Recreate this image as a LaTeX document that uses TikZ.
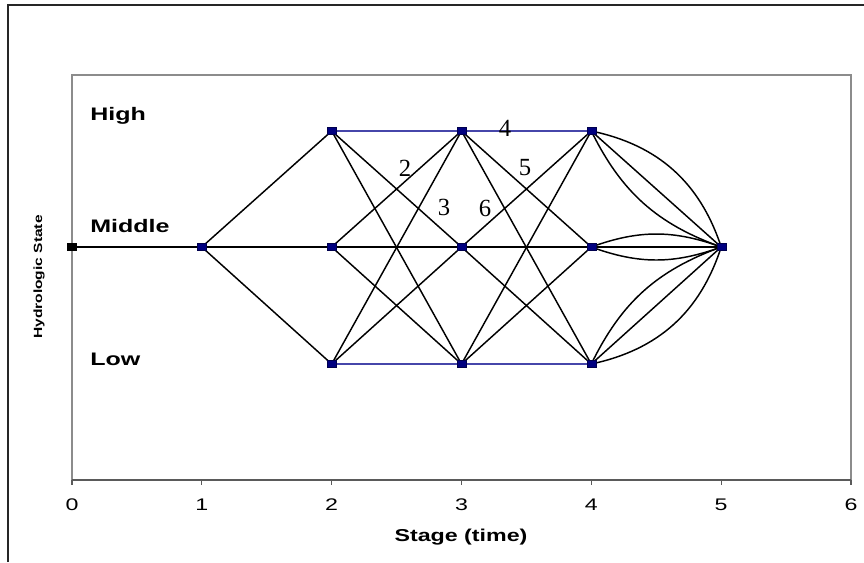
\documentclass[tikz,border=0pt]{standalone}
\usepackage{fontspec}
\newfontfamily\lsans{Liberation Sans}
\newfontfamily\lserif{Liberation Serif}
\pgfdeclarelayer{bg}
\pgfsetlayers{bg,main}
\definecolor{navyfill}{RGB}{0,0,128}
\definecolor{edgeblue}{RGB}{70,70,170}
\definecolor{framegray}{RGB}{140,140,140}
\definecolor{axisgray}{RGB}{90,90,90}
\begin{document}
\begin{tikzpicture}[x=0.75pt,y=-0.75pt,
  st/.style={rectangle, fill=navyfill, draw=navyfill!60!black, line width=0.3pt,
             minimum width=6.75pt, minimum height=5.25pt, inner sep=0pt},
  st0/.style={st, fill=black, draw=black},
  edge/.style={black, line width=1.1pt},
  bluee/.style={edgeblue, line width=0.8pt},
  statelbl/.style={anchor=base west, inner sep=0pt,
                   font=\lsans\bfseries\fontsize{13.6pt}{16pt}\selectfont},
  ticklbl/.style={inner sep=0pt, font=\lsans\fontsize{12.6pt}{15pt}\selectfont},
  axlbl/.style={inner sep=0pt, font=\lsans\bfseries\fontsize{12.9pt}{15pt}\selectfont},
  numlbl/.style={inner sep=0pt, font=\lserif\fontsize{18.5pt}{22pt}\selectfont},
]
\useasboundingbox (0,0) rectangle (864,562);

% state nodes
\node[st0] (s0M) at (72,247) {};
\node[st] (s1M) at (201.8,247) {};
\node[st] (s2H) at (331.7,131) {};
\node[st] (s2M) at (331.7,247) {};
\node[st] (s2L) at (331.7,364) {};
\node[st] (s3H) at (461.5,131) {};
\node[st] (s3M) at (461.5,247) {};
\node[st] (s3L) at (461.5,364) {};
\node[st] (s4H) at (591.3,131) {};
\node[st] (s4M) at (591.3,247) {};
\node[st] (s4L) at (591.3,364) {};
\node[st] (s5M) at (721.2,247) {};

\begin{pgfonlayer}{bg}
  % outer frame
  \draw[black!85, line width=1.2pt] (8,562) -- (8,5) -- (866,5);
  % plot area
  \draw[framegray, line width=0.8pt] (72,480) -- (72,75) -- (851,75) -- (851,480);
  \draw[axisgray, line width=1.1pt] (72,480) -- (851,480);
  \foreach \i in {0,...,6} {
    \draw[axisgray, line width=0.8pt] ({72+129.83*\i},480) -- ({72+129.83*\i},484.5);
  }
  % edges
  \draw[edge] (s0M.center) -- (s1M.center);
  \foreach \b in {H,M,L} { \draw[edge] (s1M.center) -- (s2\b.center); }
  \foreach \a/\b in {H/M,H/L,M/H,M/M,M/L,L/H,L/M} {
    \draw[edge] (s2\a.center) -- (s3\b.center);
    \draw[edge] (s3\a.center) -- (s4\b.center);
  }
  \draw[bluee] (s2H.center) -- (s3H.center) -- (s4H.center);
  \draw[bluee] (s2L.center) -- (s3L.center) -- (s4L.center);
  % final stage
  \draw[edge] (s4H.center) to[bend left=30] (s5M.center);
  \draw[edge] (s4H.center) -- (s5M.center);
  \draw[edge] (s4H.center) to[bend right=22] (s5M.center);
  \draw[edge] (s4M.center) to[bend left=20] (s5M.center);
  \draw[edge] (s4M.center) -- (s5M.center);
  \draw[edge] (s4M.center) to[bend right=20] (s5M.center);
  \draw[edge] (s4L.center) to[bend right=30] (s5M.center);
  \draw[edge] (s4L.center) -- (s5M.center);
  \draw[edge] (s4L.center) to[bend left=22] (s5M.center);
\end{pgfonlayer}

% state labels
\node[statelbl] (lhigh) at (90,120) {\scalebox{1.38}[1]{High}};
\node[statelbl] (lmid) at (90,232) {\scalebox{1.38}[1]{Middle}};
\node[statelbl] (llow) at (90,365.5) {\scalebox{1.38}[1]{Low}};

% edge numbers
\node[numlbl] (n4) at (505,128) {4};
\node[numlbl] (n2) at (405,168) {2};
\node[numlbl] (n5) at (525,168) {5};
\node[numlbl] (n3) at (444,207) {3};
\node[numlbl] (n6) at (485,208) {6};

% tick labels
\foreach \i in {0,...,6} {
  \node[ticklbl] (t\i) at ({72+129.83*\i},505) {\scalebox{1.38}[1]{\i}};
}
\node[axlbl] (xlab) at (461,537) {\scalebox{1.35}[1]{Stage (time)}};
\node[axlbl, font=\lsans\bfseries\fontsize{8.9pt}{10pt}\selectfont, rotate=90] (ylab) at (39,277) {\scalebox{1.31}[1]{Hydrologic State}};
\end{tikzpicture}
\end{document}
